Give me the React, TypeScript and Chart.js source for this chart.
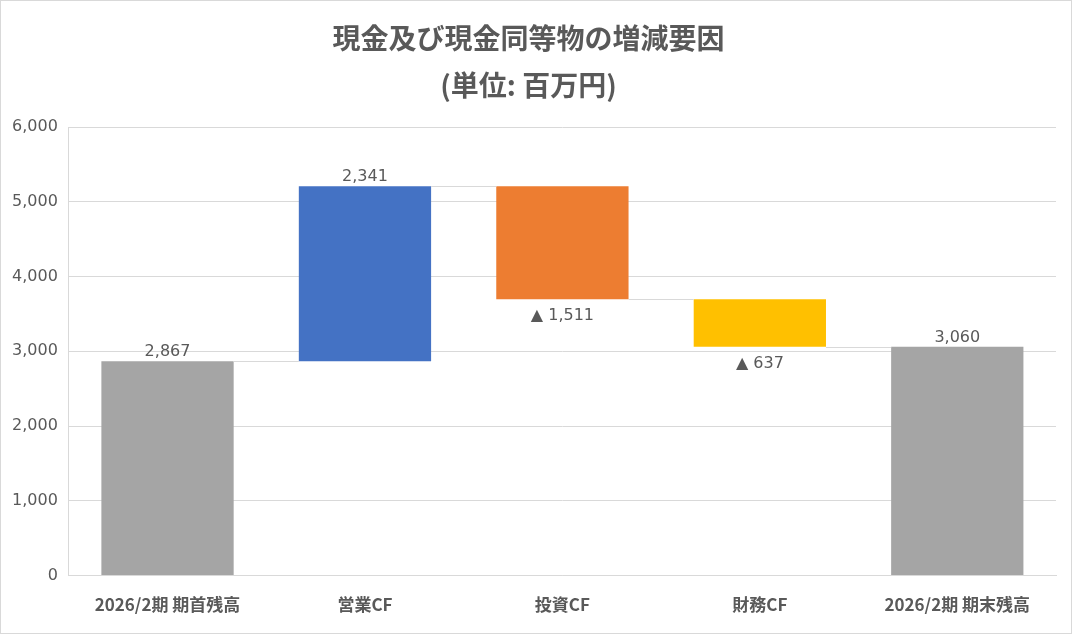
import { useEffect, useRef } from 'react';
import Chart from 'chart.js/auto';

const categories = ['2026/2期 期首残高', '営業CF', '投資CF', '財務CF', '2026/2期 期末残高'];
const amounts = [2867, 2341, -1511, -637, 3060];
const isTotal = [true, false, false, false, true];
const barColors = ['#a5a5a5', '#4472c4', '#ed7d31', '#ffc000', '#a5a5a5'];
const yTicks = [0, 1000, 2000, 3000, 4000, 5000, 6000];
const titleLines = ['現金及び現金同等物の増減要因', '(単位: 百万円)'];

// floating ranges for each step of the waterfall
function buildRanges() {
  const ranges: [number, number][] = [];
  let level = 0;
  amounts.forEach((v, i) => {
    if (isTotal[i]) {
      ranges.push([0, v]);
      level = v;
    } else {
      ranges.push([level, level + v]);
      level += v;
    }
  });
  return ranges;
}

const fmt = (n: number) => Math.abs(n).toLocaleString('en-US');

const waterfallExtras = {
  id: 'waterfallExtras',
  afterDatasetsDraw(chart: any) {
    const { ctx } = chart;
    const meta = chart.getDatasetMeta(0);
    const yScale = chart.scales.y;
    const ranges = chart.data.datasets[0].data as [number, number][];
    ctx.save();

    // connectors
    ctx.strokeStyle = '#d9d9d9';
    ctx.lineWidth = 1;
    for (let i = 0; i < ranges.length - 1; i++) {
      const a = meta.data[i];
      const b = meta.data[i + 1];
      const y = Math.round(yScale.getPixelForValue(ranges[i][1])) + 0.5;
      ctx.beginPath();
      ctx.moveTo(a.x + a.width / 2, y);
      ctx.lineTo(b.x - b.width / 2, y);
      ctx.stroke();
    }

    // value labels
    ctx.font = '16px "DejaVu Sans"';
    ctx.fillStyle = '#595959';
    ctx.textAlign = 'center';
    ctx.textBaseline = 'middle';
    amounts.forEach((v, i) => {
      const bar = meta.data[i];
      const [lo, hi] = ranges[i];
      if (v >= 0) {
        const top = yScale.getPixelForValue(Math.max(lo, hi));
        ctx.fillText(fmt(v), bar.x, top - 9);
      } else {
        const bottom = yScale.getPixelForValue(Math.min(lo, hi));
        ctx.fillText('▲ ' + fmt(v), bar.x, bottom + 17);
      }
    });
    ctx.restore();
  },
};

export default function App() {
  const canvasRef = useRef<HTMLCanvasElement | null>(null);

  useEffect(() => {
    document.body.style.margin = '0';
    if (!canvasRef.current) return;

    const chart = new Chart(canvasRef.current, {
      type: 'bar',
      data: {
        labels: categories,
        datasets: [
          {
            data: buildRanges() as any,
            backgroundColor: barColors,
            borderWidth: 0,
            borderSkipped: false,
            categoryPercentage: 1,
            barPercentage: 0.67,
          },
        ],
      },
      options: {
        animation: false,
        responsive: true,
        maintainAspectRatio: false,
        layout: { padding: { top: 14, left: 0, right: 15, bottom: 7 } },
        plugins: {
          legend: { display: false },
          tooltip: { enabled: false },
          title: {
            display: true,
            text: titleLines,
            color: '#595959',
            font: { family: '"Noto Sans CJK JP"', size: 28, weight: 'bold', lineHeight: 1.68 },
            padding: { top: 0, bottom: 18 },
          },
        },
        scales: {
          x: {
            grid: { display: false },
            border: { color: '#d9d9d9' },
            ticks: {
              color: '#595959',
              padding: 11,
              font: { family: '"Noto Sans CJK JP"', size: 17, weight: 'bold' },
            },
          },
          y: {
            min: 0,
            max: 6000,
            afterBuildTicks: (axis: any) => {
              axis.ticks = yTicks.map((value) => ({ value }));
            },
            grid: { color: '#d9d9d9', drawTicks: false },
            border: { color: '#d9d9d9' },
            ticks: {
              color: '#595959',
              padding: 11,
              font: { family: '"DejaVu Sans"', size: 16 },
              callback: (v: any) => Number(v).toLocaleString('en-US'),
            },
          },
        },
      },
      plugins: [waterfallExtras],
    });

    return () => chart.destroy();
  }, []);

  return (
    <div
      style={{
        width: 1072,
        height: 634,
        boxSizing: 'border-box',
        border: '1px solid #d9d9d9',
        background: '#fff',
        position: 'relative',
      }}
    >
      <canvas ref={canvasRef} aria-label={titleLines.join(' ')} />
    </div>
  );
}
